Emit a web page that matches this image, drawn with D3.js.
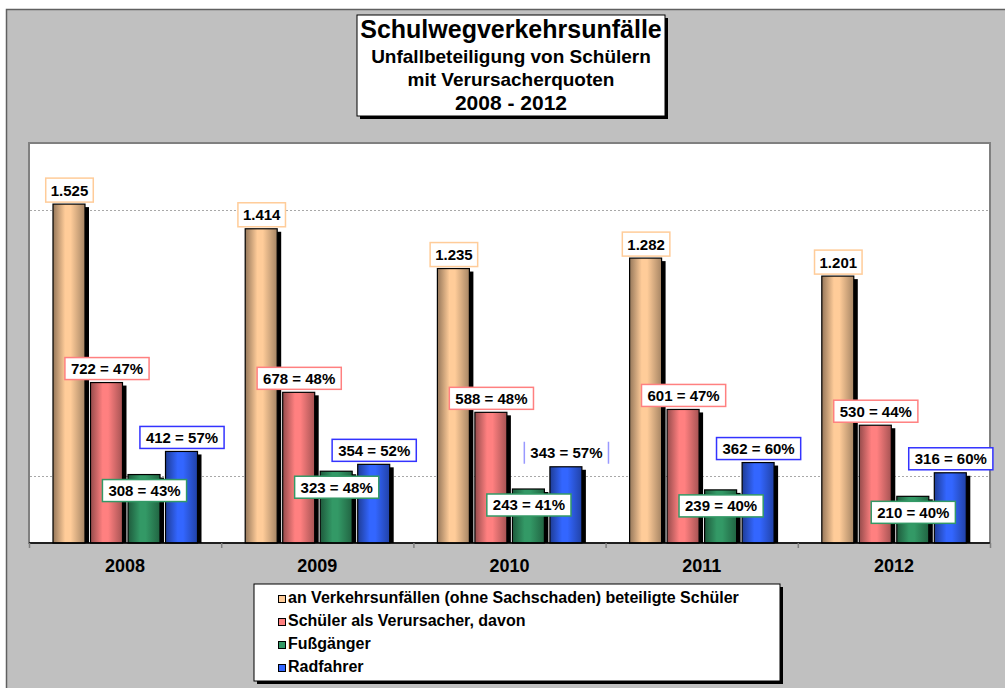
<!DOCTYPE html>
<html>
<head>
<meta charset="utf-8">
<script src="https://cdn.jsdelivr.net/npm/d3@7"></script>
<style>
  body { margin: 0; background: #fff; }
  svg { display: block; font-family: Arial, 'Liberation Sans', sans-serif; }
</style>
</head>
<body>
<svg id="chart" width="1005" height="688"></svg>
<script>
// data
const years = ['2008', '2009', '2010', '2011', '2012'];
const seriesNames = [
  'an Verkehrsunfällen (ohne Sachschaden) beteiligte Schüler',
  'Schüler als Verursacher, davon',
  'Fußgänger',
  'Radfahrer'
];
const involved = [1525, 1414, 1235, 1282, 1201];
const causers = [722, 678, 588, 601, 530];
const pedestrians = [308, 323, 243, 239, 210];
const cyclists = [412, 354, 343, 362, 316];
const causerPct = [47, 48, 48, 47, 44];
const pedestrianPct = [43, 48, 41, 40, 40];
const cyclistPct = [57, 52, 57, 60, 60];
const gridValues = [300, 1500];
const titleLines = ['Schulwegverkehrsunfälle', 'Unfallbeteiligung von Schülern', 'mit Verursacherquoten', '2008 - 2012'];

const colors = ['#FFCC99', '#FF8080', '#339966', '#3366FF'];
const labelBorders = ['#FFCC99', '#FF8080', '#339966', '#3333FF'];

const svg = d3.select('#chart');
const defs = svg.append('defs');

// chart area
svg.append('rect').attr('x', 6).attr('y', 9).attr('width', 1010).attr('height', 690)
  .attr('fill', '#C0C0C0');
svg.append('path').attr('d', 'M6.5,700V9.5H1010').attr('fill', 'none').attr('stroke', '#606060').attr('stroke-width', 1.5);

const plot = { left: 29, right: 990, top: 143, bottom: 543 };

const y = d3.scaleLinear().domain([0, 1800]).range([plot.bottom, plot.top]);
const x0 = d3.scaleBand().domain(years).range([plot.left, plot.right]);
const x1 = d3.scaleBand().domain(d3.range(4)).range([24, 168.5]).paddingInner(0.147);

// plot area
svg.append('rect')
  .attr('x', plot.left).attr('y', plot.top)
  .attr('width', plot.right - plot.left).attr('height', plot.bottom - plot.top)
  .attr('fill', '#fff').attr('stroke', '#808080').attr('stroke-width', 2);

svg.selectAll('.grid')
  .data(gridValues)
  .enter()
  .append('line')
  .attr('x1', plot.left + 1).attr('x2', plot.right - 1)
  .attr('y1', d => Math.round(y(d)) + 0.5).attr('y2', d => Math.round(y(d)) + 0.5)
  .attr('stroke', '#A8A8A8').attr('stroke-dasharray', '2,2');

// gradients for the cylinder-like bars
colors.forEach((c, i) => {
  const g = defs.append('linearGradient').attr('id', 'grad' + i)
    .attr('x1', '0%').attr('x2', '100%').attr('y1', '0%').attr('y2', '0%');
  g.append('stop').attr('offset', '0%').attr('stop-color', d3.color(c).darker(1.5));
  g.append('stop').attr('offset', '38%').attr('stop-color', c);
  g.append('stop').attr('offset', '55%').attr('stop-color', c);
  g.append('stop').attr('offset', '100%').attr('stop-color', d3.color(c).darker(1.2));
});

const rows = years.map((yr, i) => ({
  year: yr,
  values: [involved[i], causers[i], pedestrians[i], cyclists[i]],
  labels: [
    d3.format(',')(involved[i]).replace(',', '.'),
    `${causers[i]} = ${causerPct[i]}%`,
    `${pedestrians[i]} = ${pedestrianPct[i]}%`,
    `${cyclists[i]} = ${cyclistPct[i]}%`
  ]
}));

const items = rows.flatMap(r => r.values.map((v, k) => ({ v, k, label: r.labels[k], year: r.year })));
const bx = d => x0(d.year) + x1(d.k);

const barLayer = svg.append('g');
const labelLayer = svg.append('g');

// shadow
barLayer.selectAll('.shadow')
  .data(items)
  .enter()
  .append('rect')
  .attr('x', d => bx(d) + 4)
  .attr('y', d => y(d.v) + 3)
  .attr('width', x1.bandwidth())
  .attr('height', d => plot.bottom - y(d.v) - 3)
  .attr('fill', '#000');

barLayer.selectAll('.bar')
  .data(items)
  .enter()
  .append('rect')
  .attr('x', bx)
  .attr('y', d => y(d.v))
  .attr('width', x1.bandwidth())
  .attr('height', d => plot.bottom - y(d.v))
  .attr('fill', d => `url(#grad${d.k})`)
  .attr('stroke', '#000').attr('stroke-width', 1.2);

// axis
svg.append('line')
  .attr('x1', plot.left).attr('x2', plot.right)
  .attr('y1', plot.bottom).attr('y2', plot.bottom)
  .attr('stroke', '#000').attr('stroke-width', 1.5);

svg.selectAll('.tick')
  .data(years.concat(['end']))
  .enter()
  .append('line')
  .attr('x1', (d, i) => plot.left + i * x0.step() + 0.5)
  .attr('x2', (d, i) => plot.left + i * x0.step() + 0.5)
  .attr('y1', plot.bottom).attr('y2', plot.bottom + 5)
  .attr('stroke', '#808080').attr('stroke-width', 1.5);

svg.selectAll('.cat')
  .data(years)
  .enter()
  .append('text')
  .attr('x', d => x0(d) + x0.bandwidth() / 2)
  .attr('y', 572)
  .attr('text-anchor', 'middle')
  .style('font-size', '18px').style('font-weight', 'bold')
  .text(d => d);

// value labels, above everything else
const labels = labelLayer.selectAll('.label')
  .data(items)
  .enter()
  .append('g')
  .attr('transform', d => {
    const cx = bx(d) + x1.bandwidth() / 2 + 0.5;
    const top = y(d.v);
    const cy = d.k === 2 ? top + 16 : top - 14;
    return `translate(${cx},${cy})`;
  });

labels.append('text')
  .attr('text-anchor', 'middle')
  .attr('dy', '0.36em')
  .style('font-size', '15px').style('font-weight', 'bold')
  .text(d => d.label)
  .each(function (d) { d.w = this.getComputedTextLength(); });

const sideOnly = d => d.year === '2010' && d.k === 3;

labels.insert('rect', 'text')
  .attr('x', d => -d.w / 2 - (d.k === 0 ? 5 : 6))
  .attr('y', d => d.k === 0 ? -12 : -11)
  .attr('width', d => d.w + (d.k === 0 ? 10 : 12))
  .attr('height', d => d.k === 0 ? 24 : 22)
  .attr('fill', '#fff')
  .attr('stroke', d => sideOnly(d) ? 'none' : labelBorders[d.k])
  .attr('stroke-width', 1.5);

// the 2010 cyclist label only shows its side borders
labels.filter(sideOnly)
  .insert('path', 'text')
  .attr('d', d => `M${-d.w / 2 - 6},-11V11M${d.w / 2 + 6},-11V11`)
  .attr('stroke', '#9999FF').attr('stroke-width', 1.5);

// title box
const tb = { x: 357, y: 15, w: 308, h: 101 };
svg.append('rect').attr('x', tb.x + 3).attr('y', tb.y + 3).attr('width', tb.w).attr('height', tb.h).attr('fill', '#000');
svg.append('rect').attr('x', tb.x).attr('y', tb.y).attr('width', tb.w).attr('height', tb.h)
  .attr('fill', '#fff').attr('stroke', '#000').attr('stroke-width', 1);

const titleSizes = [25, 19, 19, 21];
const titleBase = [38, 63, 86, 110];
svg.selectAll('.title')
  .data(titleLines)
  .enter()
  .append('text')
  .attr('x', tb.x + tb.w / 2)
  .attr('y', (d, i) => titleBase[i])
  .attr('text-anchor', 'middle')
  .style('font-weight', 'bold')
  .style('font-size', (d, i) => titleSizes[i] + 'px')
  .text(d => d);

// legend
const lg = { x: 254, y: 584, w: 526, h: 97 };
svg.append('rect').attr('x', lg.x + 3).attr('y', lg.y + 3).attr('width', lg.w).attr('height', lg.h).attr('fill', '#000');
svg.append('rect').attr('x', lg.x).attr('y', lg.y).attr('width', lg.w).attr('height', lg.h)
  .attr('fill', '#fff').attr('stroke', '#000').attr('stroke-width', 1);

const item = svg.selectAll('.legend')
  .data(seriesNames)
  .enter()
  .append('g')
  .attr('transform', (d, i) => `translate(${lg.x + 24},${603 + i * 23})`);

item.append('rect')
  .attr('x', 0.5).attr('y', -7.5)
  .attr('width', 7).attr('height', 7)
  .attr('fill', (d, i) => colors[i])
  .attr('stroke', '#000').attr('stroke-width', 1);

item.append('text')
  .attr('x', 10)
  .attr('y', 0)
  .style('font-size', '16px').style('font-weight', 'bold')
  .text(d => d);
</script>
</body>
</html>
